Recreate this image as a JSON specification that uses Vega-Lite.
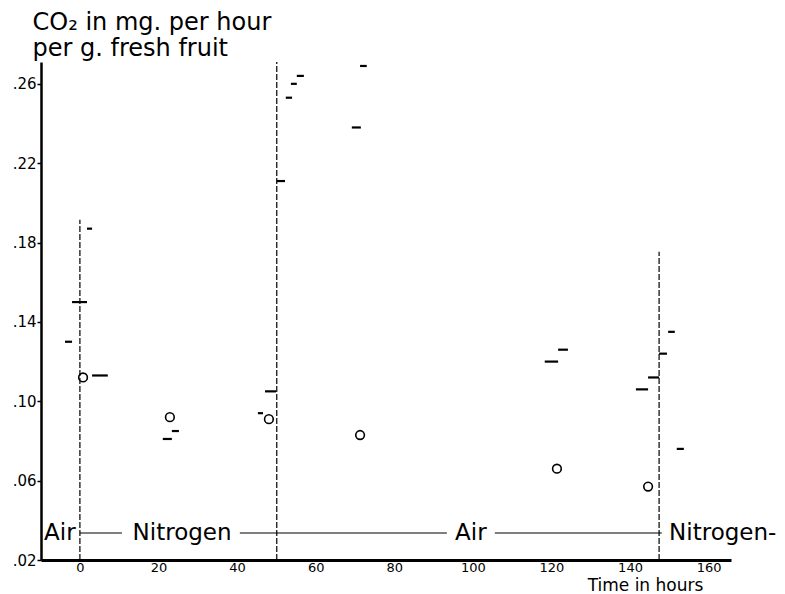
{
  "$schema": "https://vega.github.io/schema/vega-lite/v6.json",
  "width": 690,
  "height": 498,
  "autosize": {"type": "none"},
  "padding": {"left": 41, "top": 62, "right": 54, "bottom": 34},
  "background": "white",
  "config": {
    "view": {"stroke": null},
    "font": "DejaVu Sans",
    "axis": {"grid": false, "domainColor": "black", "tickColor": "black", "labelColor": "black", "titleColor": "black", "labelFont": "DejaVu Sans", "titleFont": "DejaVu Sans", "titleFontWeight": "normal"}
  },
  "datasets": {
    "dashes": [
      {"start": -3.8, "end": -2.0, "co2": 0.130},
      {"start": -2.0, "end": 1.8, "co2": 0.150},
      {"start": 1.8, "end": 3.1, "co2": 0.187},
      {"start": 3.1, "end": 7.1, "co2": 0.113},
      {"start": 21.1, "end": 23.4, "co2": 0.081},
      {"start": 23.4, "end": 25.2, "co2": 0.085},
      {"start": 45.3, "end": 46.6, "co2": 0.094},
      {"start": 47.1, "end": 49.9, "co2": 0.105},
      {"start": 50.1, "end": 52.2, "co2": 0.211},
      {"start": 52.4, "end": 54.0, "co2": 0.253},
      {"start": 53.7, "end": 55.2, "co2": 0.260},
      {"start": 55.2, "end": 57.0, "co2": 0.264},
      {"start": 69.2, "end": 71.5, "co2": 0.238},
      {"start": 71.3, "end": 73.0, "co2": 0.269},
      {"start": 118.3, "end": 121.7, "co2": 0.120},
      {"start": 121.7, "end": 124.2, "co2": 0.126},
      {"start": 141.5, "end": 144.6, "co2": 0.106},
      {"start": 144.6, "end": 147.4, "co2": 0.112},
      {"start": 147.4, "end": 149.4, "co2": 0.124},
      {"start": 149.7, "end": 151.4, "co2": 0.135},
      {"start": 151.9, "end": 153.7, "co2": 0.076}
    ],
    "circles": [
      {"hour": 0.8, "co2": 0.112},
      {"hour": 22.9, "co2": 0.092},
      {"hour": 48.1, "co2": 0.091},
      {"hour": 71.3, "co2": 0.083},
      {"hour": 121.4, "co2": 0.066},
      {"hour": 144.6, "co2": 0.057}
    ],
    "boundaries": [
      {"hour": 0, "bottom": 0.02, "top": 0.1915},
      {"hour": 50.1, "bottom": 0.02, "top": 0.271},
      {"hour": 147.4, "bottom": 0.02, "top": 0.1753}
    ],
    "phases": [
      {"hour": -5.1, "level": 0.0336, "phase": "Air"},
      {"hour": 26.0, "level": 0.0336, "phase": "Nitrogen"},
      {"hour": 99.5, "level": 0.0336, "phase": "Air"},
      {"hour": 163.6, "level": 0.0336, "phase": "Nitrogen-"}
    ],
    "arrows": [
      {"from": 0, "to": 10.7, "level": 0.0336},
      {"from": 40.7, "to": 93.4, "level": 0.0336},
      {"from": 105.6, "to": 148.1, "level": 0.0336}
    ]
  },
  "layer": [
    {
      "data": {"name": "dashes"},
      "mark": {"type": "rule", "color": "black", "strokeWidth": 2.2},
      "encoding": {
        "x": {
          "field": "start", "type": "quantitative",
          "scale": {"domain": [-9.9, 165.7], "nice": false, "zero": false},
          "axis": {
            "title": "Time in hours", "values": [0, 20, 40, 60, 80, 100, 120, 140, 160],
            "domainWidth": 3, "ticks": false, "labelFontSize": 13, "labelPadding": 1,
            "labelFlush": false,
            "titleFontSize": 17, "titleX": 604, "titleY": 34, "titleAlign": "center", "titleBaseline": "bottom"
          }
        },
        "x2": {"field": "end"},
        "y": {
          "field": "co2", "type": "quantitative",
          "scale": {"domain": [0.02, 0.271], "nice": false, "zero": false},
          "axis": {
            "title": ["CO₂ in mg. per hour", "per g. fresh fruit"],
            "values": [0.02, 0.06, 0.10, 0.14, 0.18, 0.22, 0.26],
            "labelExpr": "replace(format(datum.value, '.2f'), '0.', '.')",
            "domainWidth": 2.5, "tickSize": 4, "tickWidth": 1.5, "labelFontSize": 15, "labelPadding": 1,
            "labelFlush": false,
            "titleAngle": 0, "titleAlign": "left", "titleBaseline": "alphabetic",
            "titleX": -9, "titleY": -33, "titleFontSize": 24, "titleLineHeight": 26
          }
        }
      }
    },
    {
      "data": {"name": "circles"},
      "mark": {"type": "point", "shape": "circle", "filled": false, "color": "black", "opacity": 1, "strokeWidth": 1.6, "size": 75},
      "encoding": {
        "x": {"field": "hour", "type": "quantitative", "scale": {"domain": [-9.9, 165.7], "nice": false, "zero": false}},
        "y": {"field": "co2", "type": "quantitative", "scale": {"domain": [0.02, 0.271], "nice": false, "zero": false}}
      }
    },
    {
      "data": {"name": "boundaries"},
      "mark": {"type": "rule", "color": "black", "strokeWidth": 1.2, "strokeDash": [6, 2]},
      "encoding": {
        "x": {"field": "hour", "type": "quantitative", "scale": {"domain": [-9.9, 165.7], "nice": false, "zero": false}},
        "y": {"field": "bottom", "type": "quantitative", "scale": {"domain": [0.02, 0.271], "nice": false, "zero": false}},
        "y2": {"field": "top"}
      }
    },
    {
      "data": {"name": "arrows"},
      "mark": {"type": "rule", "color": "black", "strokeWidth": 1.2},
      "encoding": {
        "x": {"field": "from", "type": "quantitative", "scale": {"domain": [-9.9, 165.7], "nice": false, "zero": false}},
        "x2": {"field": "to"},
        "y": {"field": "level", "type": "quantitative", "scale": {"domain": [0.02, 0.271], "nice": false, "zero": false}}
      }
    },
    {
      "data": {"name": "phases"},
      "mark": {"type": "text", "color": "black", "fontSize": 23, "align": "center", "baseline": "middle", "font": "DejaVu Sans"},
      "encoding": {
        "x": {"field": "hour", "type": "quantitative", "scale": {"domain": [-9.9, 165.7], "nice": false, "zero": false}},
        "y": {"field": "level", "type": "quantitative", "scale": {"domain": [0.02, 0.271], "nice": false, "zero": false}},
        "text": {"field": "phase"}
      }
    }
  ]
}
